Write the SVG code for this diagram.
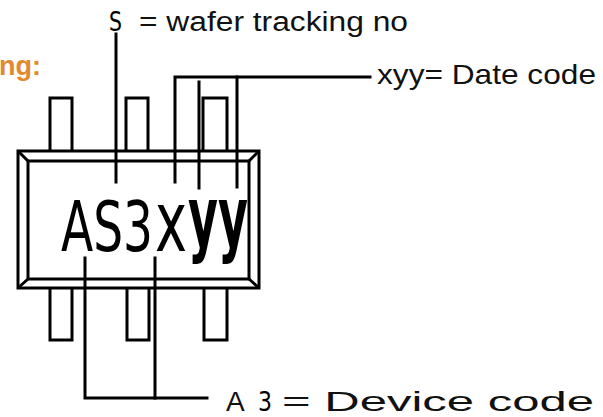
<svg xmlns="http://www.w3.org/2000/svg" width="603" height="417" viewBox="0 0 603 417">
<style>
.ln{stroke:#000;stroke-width:3;fill:none;stroke-linecap:square}
.pk{stroke:#000;stroke-width:3;fill:none}
.lbl{font-family:"Liberation Sans",Arial,sans-serif;fill:#111}
.nar{font-family:"Liberation Sans Narrow","DejaVu Sans Condensed","Liberation Sans",sans-serif;fill:#000}
</style>
<rect width="603" height="417" fill="#fff"/>
<text x="-1" y="75" font-family="Liberation Sans,Arial,sans-serif" font-weight="bold" font-size="28" fill="#E3892F" textLength="42" lengthAdjust="spacingAndGlyphs">ng:</text>
<g id="package">
<rect class="pk" x="18" y="151" width="241" height="137"/>
<rect class="pk" x="28" y="161" width="221" height="118"/>
<path class="pk" d="M18 151 L28 161 M259 151 L249 161 M18 288 L28 279 M259 288 L249 279"/>
</g>
<g id="pins">
<path class="pk" d="M50 151 V98 H72 V151"/>
<path class="pk" d="M126 151 V98 H148 V151"/>
<path class="pk" d="M203 151 V98 H227 V151"/>
<path class="pk" d="M50 288 V340 H72 V288"/>
<path class="pk" d="M127 288 V340 H149 V288"/>
<path class="pk" d="M204 288 V340 H227 V288"/>
</g>
<g id="marking">
<text class="nar" y="251"><tspan x="61" font-size="70" textLength="92" lengthAdjust="spacingAndGlyphs">AS3</tspan><tspan x="155" font-size="84" textLength="32" lengthAdjust="spacingAndGlyphs">x</tspan><tspan x="188" y="246" font-size="84" font-weight="bold" textLength="60" lengthAdjust="spacingAndGlyphs">yy</tspan></text>
</g>
<g id="connectors">
<path class="ln" d="M116 34 V182"/>
<path class="ln" d="M175 182 V77 H370"/>
<path class="ln" d="M199 82 V188"/>
<path class="ln" d="M237 77 V187"/>
<path class="ln" d="M85 258 V398 H207"/>
<path class="ln" d="M155 258 V398"/>
</g>
<g id="label-s">
<text class="nar" x="109" y="31" font-size="27" textLength="13" lengthAdjust="spacingAndGlyphs">S</text>
<text class="lbl" x="139" y="31" font-size="27" textLength="269" lengthAdjust="spacingAndGlyphs">= wafer tracking no</text>
</g>
<g id="label-date">
<text class="lbl" x="377" y="84" font-size="28" textLength="219" lengthAdjust="spacingAndGlyphs">xyy= Date code</text>
</g>
<g id="label-device">
<text class="lbl" x="226" y="411" font-size="28">A</text>
<text class="nar" x="258" y="411" font-size="26" textLength="14" lengthAdjust="spacingAndGlyphs">3</text>
<text class="lbl" x="282" y="411" font-size="28" textLength="312" lengthAdjust="spacingAndGlyphs">= Device code</text>
</g>
</svg>
